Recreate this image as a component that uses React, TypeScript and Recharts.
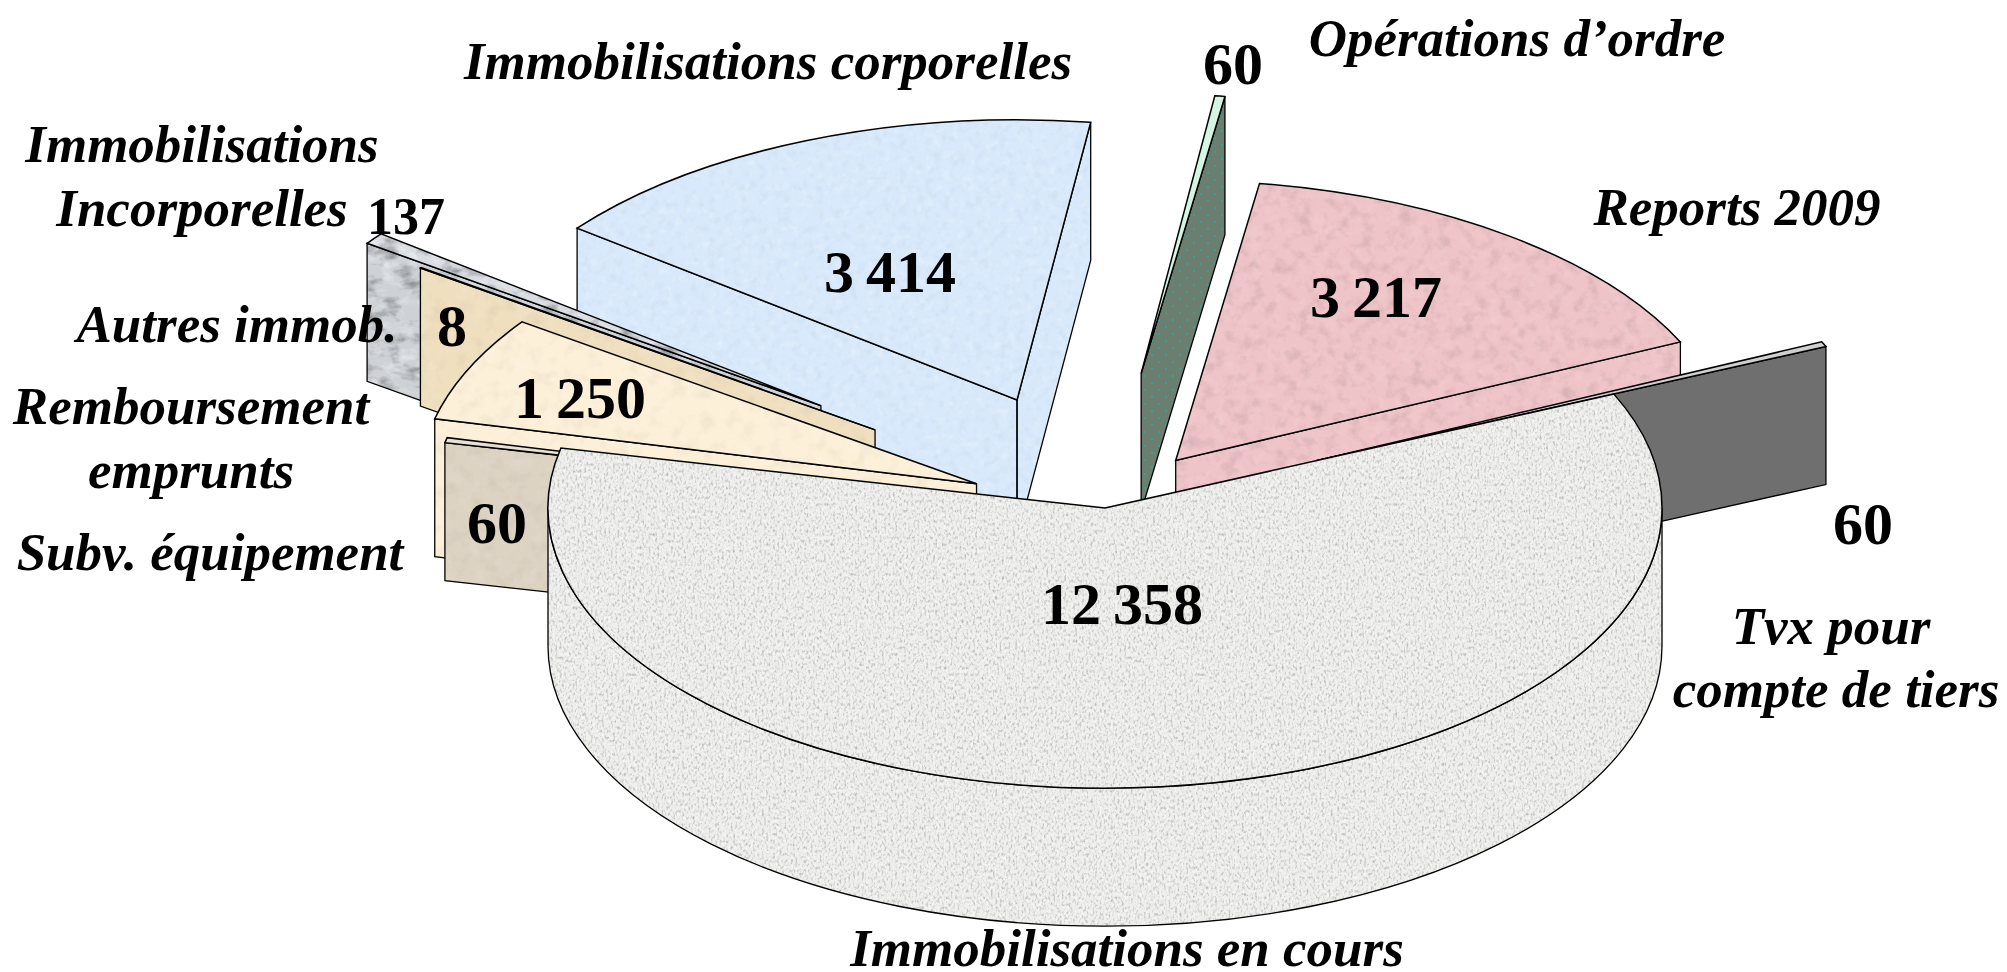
import React from 'react';
import { PieChart, Pie } from 'recharts';

const WIDTH = 2007;
const HEIGHT = 972;

// Clockwise from the top of the pie
const categories = [
  "Opérations d’ordre",
  'Reports 2009',
  'Tvx pour\ncompte de tiers',
  'Immobilisations en cours',
  'Subv. équipement',
  'Remboursement\nemprunts',
  'Autres immob.',
  'Immobilisations\nIncorporelles',
  'Immobilisations corporelles',
];
const values = [60, 3217, 60, 12358, 60, 1250, 8, 137, 3414];

const rows = categories.map((name, i) => ({ name, value: values[i] }));
const rowsReversed = [...rows].reverse();

// Presentation only
const CX = 1105;
const CY = 508;
const RADIUS = 557;
const SQUASH = 0.503;
const DEPTH = 138;
const START = 82.4;

type Look = {
  layer: 'back' | 'front';
  explode: number;
  nudgeX: number;
  nudgeY: number;
  top: string;
  wall: string;
  filter: string;
};
const looks: Record<string, Look> = {
  [categories[0]]: { layer: 'back', explode: 270, nudgeX: -2, nudgeY: 0, top: '#d4f5e2', wall: 'url(#dots)', filter: '' },
  [categories[1]]: { layer: 'back', explode: 118, nudgeX: 0, nudgeY: 0, top: '#efc4c8', wall: '#efc4c8', filter: 'url(#texPink)' },
  [categories[2]]: { layer: 'back', explode: 233, nudgeX: 0, nudgeY: 1, top: '#cfcfcf', wall: '#6f6f6f', filter: '' },
  [categories[3]]: { layer: 'front', explode: 0, nudgeX: 0, nudgeY: 0, top: '#eeeeec', wall: '#eeeeec', filter: 'url(#texStone)' },
  [categories[4]]: { layer: 'front', explode: 119, nudgeX: 0, nudgeY: 8, top: '#e9e1d2', wall: '#ddd3c3', filter: 'url(#texSoft)' },
  [categories[5]]: { layer: 'front', explode: 141, nudgeX: 0, nudgeY: 5, top: '#fdf0d9', wall: '#fdf0d9', filter: 'url(#texSoft)' },
  [categories[6]]: { layer: 'front', explode: 282, nudgeX: 0, nudgeY: 4, top: '#f0dfbf', wall: '#f0dfbf', filter: 'url(#texSoft)' },
  [categories[7]]: { layer: 'front', explode: 354, nudgeX: 0, nudgeY: 4, top: '#d9dde2', wall: '#ced2d6', filter: 'url(#texMarble)' },
  [categories[8]]: { layer: 'front', explode: 232, nudgeX: 0, nudgeY: 0, top: '#d7e9fb', wall: '#d7e9fb', filter: 'url(#texBlue)' },
};

type Line = { x: number; y: number };
type Place = { size: number; lines: Line[]; num: { x: number; y: number; size: number } };
const places: Record<string, Place> = {
  [categories[0]]: { size: 53, lines: [{ x: 1517, y: 56 }], num: { x: 1233, y: 84, size: 60 } },
  [categories[1]]: { size: 53, lines: [{ x: 1737, y: 225 }], num: { x: 1376, y: 317, size: 60 } },
  [categories[2]]: { size: 53, lines: [{ x: 1831, y: 644 }, { x: 1836, y: 707 }], num: { x: 1863, y: 544, size: 60 } },
  [categories[3]]: { size: 53, lines: [{ x: 1127, y: 966 }], num: { x: 1122, y: 624, size: 60 } },
  [categories[4]]: { size: 53, lines: [{ x: 210, y: 570 }], num: { x: 497, y: 543, size: 60 } },
  [categories[5]]: { size: 53, lines: [{ x: 191, y: 424 }, { x: 191, y: 488 }], num: { x: 580, y: 418, size: 60 } },
  [categories[6]]: { size: 53, lines: [{ x: 237, y: 342 }], num: { x: 452, y: 346, size: 60 } },
  [categories[7]]: { size: 53, lines: [{ x: 202, y: 162 }, { x: 202, y: 226 }], num: { x: 406, y: 234, size: 52 } },
  [categories[8]]: { size: 53, lines: [{ x: 768, y: 79 }], num: { x: 890, y: 292, size: 60 } },
};

const fmt = (v: number) => String(v).replace(/\B(?=(\d{3})+$)/g, ' ');
const rad = (deg: number) => (deg * Math.PI) / 180;

function sliceShape(layer: 'back' | 'front') {
  return function SliceShape(props: any) {
    const name = props.payload?.name ?? props.name;
    const look = looks[name];
    if (!look || look.layer !== layer) return <g />;
    const lo = Math.min(props.startAngle, props.endAngle);
    const hi = Math.max(props.startAngle, props.endAngle);
    const mid = rad((lo + hi) / 2);
    const ox = props.cx + look.explode * Math.cos(mid) + look.nudgeX;
    const oy = props.cy - look.explode * Math.sin(mid) * SQUASH + look.nudgeY;
    const R = props.outerRadius;
    const rx = R;
    const ry = R * SQUASH;
    const pt = (deg: number) => ({
      x: ox + R * Math.cos(rad(deg)),
      y: oy - R * SQUASH * Math.sin(rad(deg)),
    });
    const a = pt(hi);
    const b = pt(lo);
    const large = hi - lo > 180 ? 1 : 0;
    const top = `M${ox},${oy} L${a.x},${a.y} A${rx},${ry} 0 ${large} 1 ${b.x},${b.y} Z`;
    const walls: string[] = [];
    if (Math.cos(rad(hi)) < 0) {
      walls.push(`M${ox},${oy} L${a.x},${a.y} L${a.x},${a.y + DEPTH} L${ox},${oy + DEPTH} Z`);
    }
    if (Math.cos(rad(lo)) > 0) {
      walls.push(`M${ox},${oy} L${b.x},${b.y} L${b.x},${b.y + DEPTH} L${ox},${oy + DEPTH} Z`);
    }
    const arcLo = Math.max(lo, 180);
    const arcHi = Math.min(hi, 360);
    if (arcHi > arcLo) {
      const p = pt(arcHi);
      const q = pt(arcLo);
      walls.push(
        `M${p.x},${p.y} A${rx},${ry} 0 0 1 ${q.x},${q.y} L${q.x},${q.y + DEPTH} A${rx},${ry} 0 0 0 ${p.x},${p.y + DEPTH} Z`,
      );
    }
    const filter = look.filter || undefined;
    return (
      <g>
        {walls.map((d) => (
          <path key={d} d={d} fill={look.wall} filter={filter} />
        ))}
        {walls.map((d) => (
          <path key={`s${d}`} d={d} fill="none" stroke="#000" strokeWidth={1.3} />
        ))}
        <path d={top} fill={look.top} filter={filter} />
        <path d={top} fill="none" stroke="#000" strokeWidth={1.5} />
      </g>
    );
  };
}

function sliceLabel(props: any) {
  const name = props.payload?.name ?? props.name;
  const place = places[name];
  if (!place) return <g />;
  const parts = String(name).split('\n');
  const font = '"Liberation Serif", "Times New Roman", serif';
  return (
    <g>
      {parts.map((t, i) => (
        <text
          key={t}
          x={place.lines[i].x}
          y={place.lines[i].y}
          textAnchor="middle"
          fontFamily={font}
          fontSize={place.size}
          fontWeight="bold"
          fontStyle="italic"
          fill="#000"
        >
          {t}
        </text>
      ))}
      <text
        x={place.num.x}
        y={place.num.y}
        textAnchor="middle"
        fontFamily={font}
        fontSize={place.num.size}
        fontWeight="bold"
        wordSpacing={-3}
        fill="#000"
      >
        {fmt(props.value)}
      </text>
    </g>
  );
}

function Texture({ id, freq, oct, seed, dark, light }: { id: string; freq: string; oct: number; seed: number; dark: number; light: number }) {
  return (
    <filter id={id} x="-2%" y="-2%" width="104%" height="104%" colorInterpolationFilters="sRGB">
      <feTurbulence type="fractalNoise" baseFrequency={freq} numOctaves={oct} seed={seed} result="n" />
      <feColorMatrix in="n" type="matrix" values={`0 0 0 0 0  0 0 0 0 0  0 0 0 0 0  ${dark} 0 0 0 ${-dark * 0.48}`} result="d" />
      <feColorMatrix in="n" type="matrix" values={`0 0 0 0 1  0 0 0 0 1  0 0 0 0 1  0 ${light} 0 0 ${-light * 0.48}`} result="l" />
      <feComposite in="d" in2="SourceAlpha" operator="in" result="dc" />
      <feComposite in="l" in2="SourceAlpha" operator="in" result="lc" />
      <feMerge>
        <feMergeNode in="SourceGraphic" />
        <feMergeNode in="dc" />
        <feMergeNode in="lc" />
      </feMerge>
    </filter>
  );
}

export default function App() {
  return (
    <div style={{ position: 'absolute', left: 0, top: 0, width: WIDTH, height: HEIGHT, background: '#fff' }}>
      <PieChart width={WIDTH} height={HEIGHT} margin={{ top: 0, right: 0, bottom: 0, left: 0 }}>
        <defs>
          <Texture id="texStone" freq="0.45 0.3" oct={2} seed={4} dark={0.6} light={1.6} />
          <Texture id="texPink" freq="0.08" oct={4} seed={7} dark={0.22} light={0.3} />
          <Texture id="texBlue" freq="0.12" oct={4} seed={9} dark={0.08} light={0.7} />
          <Texture id="texSoft" freq="0.07" oct={3} seed={2} dark={0.1} light={0.3} />
          <Texture id="texMarble" freq="0.05 0.09" oct={4} seed={12} dark={0.8} light={1.3} />
          <pattern id="dots" width="14" height="14" patternUnits="userSpaceOnUse">
            <rect width="14" height="14" fill="#6b7f70" />
            <circle cx="4" cy="5" r="1" fill="#2fa7a0" />
            <circle cx="11" cy="12" r="1" fill="#2fa7a0" />
          </pattern>
        </defs>
        <Pie
          data={rows}
          dataKey="value"
          nameKey="name"
          cx={CX}
          cy={CY}
          outerRadius={RADIUS}
          startAngle={START}
          endAngle={START - 360}
          stroke="none"
          label={false}
          labelLine={false}
          shape={sliceShape('back')}
          isAnimationActive={false}
        />
        <Pie
          data={rowsReversed}
          dataKey="value"
          nameKey="name"
          cx={CX}
          cy={CY}
          outerRadius={RADIUS}
          startAngle={START}
          endAngle={START + 360}
          stroke="none"
          label={false}
          labelLine={false}
          shape={sliceShape('front')}
          isAnimationActive={false}
        />
        <Pie
          data={rows}
          dataKey="value"
          nameKey="name"
          cx={CX}
          cy={CY}
          outerRadius={RADIUS}
          startAngle={START}
          endAngle={START - 360}
          stroke="none"
          label={sliceLabel}
          labelLine={false}
          shape={() => <g />}
          isAnimationActive={false}
        />
      </PieChart>
    </div>
  );
}
